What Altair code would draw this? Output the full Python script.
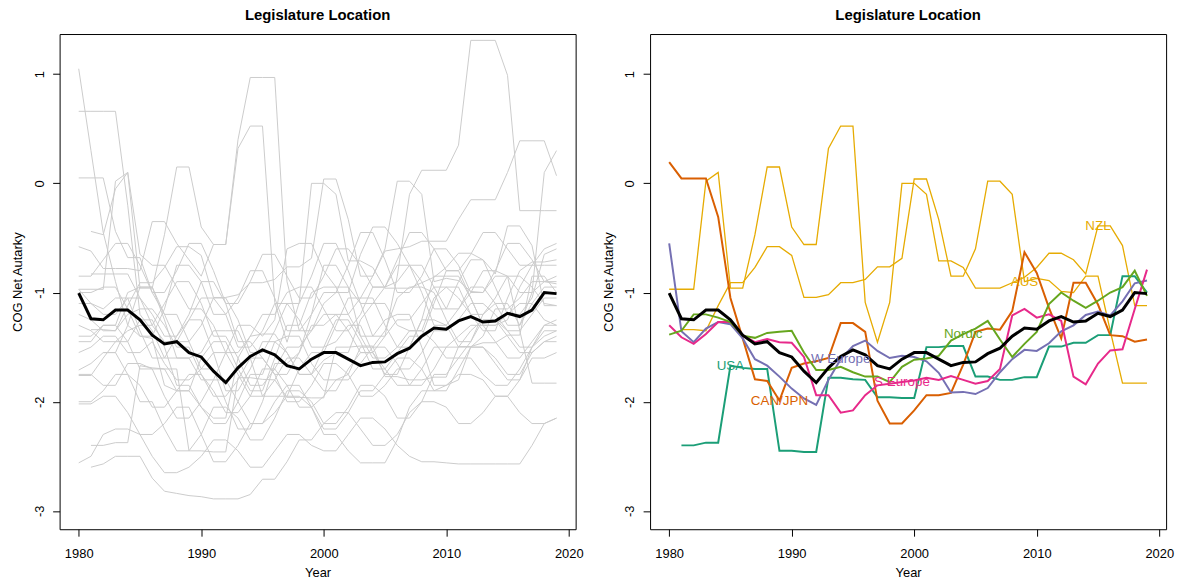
import altair as alt
import pandas as pd

YEARS = list(range(1980, 2020))

# overall mean (black)
MEAN = [-1.005, -1.24, -1.25, -1.16, -1.16, -1.25, -1.39, -1.47, -1.45, -1.55,
        -1.59, -1.72, -1.825, -1.69, -1.585, -1.525, -1.57, -1.67, -1.70, -1.61,
        -1.55, -1.55, -1.61, -1.67, -1.64, -1.635, -1.56, -1.51, -1.40, -1.325,
        -1.335, -1.26, -1.22, -1.27, -1.26, -1.19, -1.22, -1.16, -1.00, -1.01]

# group series (right panel)
USA = [None, -2.40, -2.40, -2.375, -2.375, -1.67, -1.69, -1.70, -1.70, -2.45,
       -2.45, -2.46, -2.46, -1.78, -1.78, -1.795, -1.80, -1.96, -1.96, -1.965,
       -1.965, -1.50, -1.50, -1.49, -1.49, -1.77, -1.77, -1.80, -1.80, -1.775,
       -1.775, -1.495, -1.495, -1.46, -1.46, -1.39, -1.39, -0.85, -0.85, -1.0]
CAN_JPN = [0.194, 0.045, 0.045, 0.045, -0.307, -1.05, -1.42, -1.795, -1.81, -1.99,
           -1.69, -1.65, -1.63, -1.60, -1.28, -1.28, -1.36, -1.99, -2.20, -2.20,
           -2.08, -1.94, -1.94, -1.92, -1.66, -1.36, -1.33, -1.34, -1.17, -0.63,
           -0.82, -1.14, -1.42, -0.91, -0.91, -1.11, -1.39, -1.40, -1.45, -1.43]
W_EUROPE = [-0.55, -1.355, -1.455, -1.33, -1.27, -1.29, -1.42, -1.61, -1.67, -1.77,
            -1.88, -1.97, -2.03, -1.80, -1.61, -1.49, -1.44, -1.535, -1.60, -1.58,
            -1.59, -1.63, -1.735, -1.915, -1.91, -1.93, -1.875, -1.73, -1.61, -1.525,
            -1.535, -1.465, -1.355, -1.30, -1.205, -1.175, -1.21, -1.08, -0.915, -0.89]
S_EUROPE = [-1.30, -1.41, -1.47, -1.38, -1.27, -1.27, -1.39, -1.455, -1.425, -1.455,
            -1.46, -1.59, -1.94, -1.94, -2.10, -2.08, -1.94, -1.85, -1.835, -1.82,
            -1.805, -1.78, -1.80, -1.765, -1.80, -1.835, -1.81, -1.70, -1.21, -1.15,
            -1.23, -1.20, -1.26, -1.77, -1.84, -1.65, -1.53, -1.52, -1.15, -0.79]
NORDIC = [-1.385, -1.35, -1.20, -1.20, -1.23, -1.27, -1.395, -1.415, -1.37, -1.36,
          -1.35, -1.55, -1.71, -1.71, -1.68, -1.73, -1.77, -1.77, -1.82, -1.68,
          -1.615, -1.605, -1.58, -1.44, -1.38, -1.33, -1.26, -1.43, -1.59, -1.47,
          -1.36, -1.105, -1.0, -1.075, -1.14, -1.075, -1.0, -0.95, -0.80, -1.03]
NZL = [-0.97, -0.97, -0.97, 0.02, 0.10, -0.96, -0.96, -0.47, 0.15, 0.15,
       -0.40, -0.56, -0.56, 0.32, 0.525, 0.525, -1.09, -1.455, -1.09, 0.0,
       0.0, -0.10, -0.71, -0.71, -0.77, -0.96, -0.96, -0.96, -0.91, -0.86,
       -0.77, -0.64, -0.64, -0.70, -0.83, -0.39, -0.39, -0.57, -1.12, -1.12]
AUS = [None, -1.34, -1.34, -1.35, -1.12, -0.91, -0.91, -0.77, -0.58, -0.58,
       -0.66, -1.045, -1.045, -1.02, -0.91, -0.91, -0.88, -0.765, -0.765, -0.686,
       0.04, 0.04, -0.33, -0.85, -0.85, -0.60, 0.02, 0.02, -0.10, -0.90,
       -0.87, -0.89, -0.99, -1.0, -0.85, -0.85, -1.35, -1.83, -1.83, -1.83]

# individual country series (grey, left panel)
G01 = [1.05, 0.30, -0.45, -0.90, -1.30, -1.40, -1.42, -1.85, -1.90, -1.90,
       -2.05, -2.15, -2.15, -1.60, -1.40, -1.38, -1.38, -1.55, -1.75, -1.75,
       -1.62, -1.55, -1.55, -1.25, -1.10, -1.10, -1.30, -1.35, -1.35, -1.05,
       -0.95, -0.95, -1.20, -1.35, -1.35, -1.05, -0.80, -0.72, -0.72, -0.70]
G02 = [0.66, 0.66, 0.66, 0.66, -0.20, -1.20, -1.35, -1.60, -1.60, -1.60,
       -1.55, -1.35, -1.35, -1.35, -1.60, -1.95, -1.95, -1.95, -1.70, -1.55,
       -1.55, -1.30, -1.05, -1.05, -1.05, -1.30, -1.50, -1.50, -1.25, -0.85,
       -0.85, -0.85, -1.05, -1.30, -1.30, -1.25, -0.95, -0.75, -0.75, -0.75]
G03 = [0.05, 0.05, 0.05, -0.44, -0.68, -0.68, -1.00, -1.20, -1.20, -1.45,
       -1.70, -1.70, -2.00, -2.25, -2.25, -2.00, -1.65, -1.65, -1.55, -1.20,
       -0.75, -0.75, -0.95, -1.40, -1.40, -1.25, -1.20, -1.20, -1.50, -1.85,
       -1.85, -1.80, -1.50, -1.50, -1.65, -1.80, -1.80, -1.50, -1.35, -1.35]
G04 = [-0.58, -0.62, -0.78, -0.78, -0.78, -0.80, -0.35, -0.35, -0.55, -0.70,
       -0.85, -0.56, -0.56, 0.40, 0.97, 0.97, 0.97, -0.90, -1.35, -1.35,
       -1.10, -1.00, -1.00, -0.65, -0.40, -0.40, -0.55, -0.75, -0.90, -1.15,
       -1.15, -0.90, -0.70, -0.70, -0.95, -1.20, -1.20, -1.05, -0.65, -0.60]
G05 = [-1.45, -1.45, -1.30, -1.30, -1.00, -0.95, -0.95, -1.25, -1.60, -1.60,
       -1.80, -1.80, -1.55, -1.30, -1.30, -1.40, -1.25, -0.60, -0.55, -0.55,
       -0.80, -0.95, -0.95, -1.10, -1.40, -1.40, -0.85, -0.10, 0.12, 0.12,
       0.12, 0.35, 1.31, 1.31, 1.31, 0.99, -0.25, -0.25, -0.25, -0.25]
G06 = [-1.75, -1.75, -1.85, -1.85, -1.65, -1.65, -1.70, -1.70, -1.90, -1.90,
       -1.60, -1.45, -1.45, -1.70, -1.90, -1.90, -1.60, -1.30, -1.30, -1.00,
       -0.95, -0.95, -1.20, -1.05, -0.85, -0.62, -0.60, -0.58, -0.53, -0.53,
       -0.53, -0.33, -0.15, -0.15, -0.15, 0.10, 0.39, 0.39, 0.39, 0.07]
G07 = [-1.76, -1.76, -1.60, -1.45, -1.45, -1.25, -1.25, -1.50, -1.85, -1.85,
       -2.05, -2.20, -2.20, -2.00, -1.75, -1.75, -1.45, -1.40, -1.40, -1.65,
       -1.80, -1.80, -1.75, -1.50, -1.50, -1.35, -1.05, -0.95, -0.95, -1.00,
       -1.25, -1.45, -1.45, -1.20, -1.10, -1.10, -1.30, -1.00, 0.10, 0.30]
G08 = [None, -2.60, -2.57, -2.50, -2.50, -2.50, -2.70, -2.82, -2.84, -2.86,
       -2.87, -2.89, -2.89, -2.89, -2.85, -2.71, -2.71, -2.55, -2.35, -2.35,
       -2.20, -2.10, -2.10, -2.25, -2.40, -2.40, -2.30, -2.10, -2.00, -2.00,
       -2.05, -2.20, -2.20, -2.10, -1.95, -1.95, -2.10, -2.20, -2.20, -2.15]
G09 = [-2.56, -2.50, -2.30, -2.25, -2.25, -2.30, -2.50, -2.65, -2.65, -2.60,
       -2.50, -2.35, -2.35, -2.45, -2.60, -2.60, -2.45, -2.30, -2.30, -2.40,
       -2.45, -2.45, -2.30, -2.15, -2.15, -2.25, -2.40, -2.50, -2.55, -2.55,
       -2.56, -2.57, -2.57, -2.57, -2.57, -2.57, -2.57, -2.40, -2.20, -2.15]
G10 = [-2.02, -2.02, -1.95, -1.95, -2.10, -2.30, -2.30, -2.20, -2.05, -2.05,
       -2.30, -2.55, -2.55, -2.40, -2.20, -2.20, -2.10, -1.95, -1.95, -2.05,
       -2.30, -2.30, -2.45, -2.56, -2.56, -2.56, -2.35, -2.05, -1.90, -1.90,
       -1.85, -1.75, -1.75, -1.80, -1.95, -1.95, -1.80, -1.60, -1.60, -1.55]
G11 = [-1.71, -1.65, -1.55, -1.55, -1.75, -2.00, -2.00, -2.25, -2.45, -2.45,
       -2.30, -2.05, -2.05, -2.15, -2.35, -2.35, -2.15, -1.90, -1.90, -2.00,
       -2.20, -2.20, -2.05, -1.85, -1.85, -1.95, -2.15, -2.15, -2.00, -1.75,
       -1.75, -1.60, -1.60, -1.75, -1.85, -1.85, -1.70, -1.50, -1.40, -1.35]
G12 = [None, -0.83, -0.83, -0.83, -0.83, -1.05, -1.30, -1.45, -1.45, -1.25,
       -1.05, -1.05, -1.20, -1.50, -1.50, -1.35, -1.10, -1.10, -1.25, -1.50,
       -1.50, -1.45, -1.30, -1.30, -1.55, -1.75, -1.75, -1.50, -1.25, -1.25,
       -1.30, -1.50, -1.50, -1.40, -1.15, -1.15, -1.05, -0.90, -0.90, -0.92]
G13 = [None, -0.44, -0.47, -0.05, 0.10, -0.65, -0.75, -0.75, -0.95, -1.15,
       -1.15, -1.30, -1.55, -1.55, -1.40, -1.20, -1.20, -1.00, -0.95, -0.95,
       -1.15, -1.35, -1.35, -1.20, -0.95, -0.95, -0.90, -0.75, -0.75, -0.95,
       -1.15, -1.15, -1.00, -0.80, -0.80, -0.85, -1.00, -1.00, -0.90, -0.85]
G14 = [-0.97, -1.10, -1.20, -1.20, -1.05, -1.05, -1.20, -1.40, -1.40, -1.20,
       -0.90, -0.90, -1.10, -1.45, -1.45, -1.60, -1.75, -1.75, -1.55, -1.30,
       -1.30, -1.20, -1.20, -1.40, -1.60, -1.60, -1.50, -1.35, -1.35, -1.45,
       -1.60, -1.60, -1.45, -1.25, -1.25, -1.35, -1.50, -1.50, -1.30, -1.25]
G15 = [-1.20, -1.25, -1.35, -1.35, -1.20, -1.15, -1.15, -1.30, -1.50, -1.50,
       -1.75, -1.95, -1.95, -1.80, -1.60, -1.60, -1.75, -2.00, -2.00, -1.85,
       -1.65, -1.65, -1.75, -1.95, -1.95, -1.85, -1.70, -1.70, -1.55, -1.35,
       -1.35, -1.25, -1.10, -1.10, -1.20, -1.35, -1.35, -1.20, -1.05, -1.05]
G16 = [-1.10, -1.10, -1.15, -1.05, -1.05, -1.35, -1.60, -1.60, -1.40, -1.25,
       -1.25, -1.55, -1.90, -1.90, -1.70, -1.45, -1.45, -1.55, -1.75, -1.75,
       -1.50, -1.25, -1.25, -1.45, -1.70, -1.70, -1.55, -1.40, -1.40, -1.10,
       -0.80, -0.80, -1.05, -1.30, -1.30, -1.20, -1.10, -1.10, -1.25, -1.30]
G17 = [-1.40, -1.40, -1.30, -1.30, -1.45, -1.70, -1.70, -1.95, -2.15, -2.15,
       -2.00, -1.80, -1.80, -2.00, -2.20, -2.20, -2.00, -1.85, -1.85, -2.05,
       -2.25, -2.25, -2.10, -1.90, -1.90, -1.75, -1.60, -1.60, -1.70, -1.90,
       -1.90, -1.70, -1.50, -1.50, -1.60, -1.75, -1.75, -1.55, -1.45, -1.45]
G18 = [-1.30, -1.35, -1.45, -1.45, -1.35, -1.30, -1.30, -1.10, -0.90, -0.90,
       -1.10, -1.40, -1.40, -1.60, -1.85, -1.85, -1.70, -1.50, -1.50, -1.35,
       -1.20, -1.20, -1.35, -1.55, -1.55, -1.40, -1.25, -1.25, -1.10, -0.95,
       -0.95, -1.05, -1.20, -1.20, -1.05, -0.85, -0.85, -0.95, -1.10, -1.12]
G19 = [-2.00, -2.00, -1.90, -1.75, -1.75, -1.85, -2.05, -2.05, -1.90, -1.75,
       -1.75, -1.90, -2.10, -2.10, -1.95, -1.70, -1.70, -1.85, -2.05, -2.05,
       -1.95, -1.80, -1.80, -1.65, -1.50, -1.50, -1.65, -1.85, -1.85, -1.70,
       -1.50, -1.50, -1.35, -1.25, -1.25, -1.40, -1.55, -1.55, -1.45, -1.40]
G20 = [-1.55, -1.50, -1.40, -1.40, -1.55, -1.55, -1.45, -1.65, -1.80, -1.80,
       -1.70, -1.55, -1.55, -1.75, -1.95, -1.95, -1.80, -1.60, -1.60, -1.75,
       -1.90, -1.90, -1.70, -1.55, -1.55, -1.70, -1.85, -1.85, -1.70, -1.50,
       -1.50, -1.40, -1.30, -1.30, -1.45, -1.60, -1.60, -1.45, -1.30, -1.30]
G21 = [-0.85, -0.85, -0.70, -0.55, -0.55, -0.75, -1.00, -1.00, -0.80, -0.55,
       -0.55, -0.80, -1.10, -1.10, -0.90, -0.65, -0.65, -0.85, -1.05, -1.05,
       -0.85, -0.60, -0.60, -0.75, -0.95, -0.95, -0.70, -0.45, -0.45, -0.60,
       -0.80, -0.80, -0.65, -0.45, -0.45, -0.60, -0.75, -0.75, -0.60, -0.55]
G22 = [-1.00, -1.00, -0.95, -0.95, -1.15, -1.40, -1.40, -1.15, -0.75, -0.75,
       -0.90, -1.20, -1.20, -1.05, -0.80, -0.80, -1.05, -1.35, -1.35, -1.20,
       -1.00, -1.00, -0.75, -0.45, -0.45, -0.70, -1.00, -1.00, -0.85, -0.60,
       -0.60, -0.75, -1.00, -1.00, -0.80, -0.55, -0.55, -0.70, -0.90, -0.90]
G23 = [None, None, -1.55, -1.55, -1.30, -0.95, -0.95, -1.20, -1.45, -1.45,
       -1.30, -1.05, -1.05, -1.25, -1.55, -1.55, -1.35, -1.10, -1.10, -0.85,
       -0.55, -0.55, -0.80, -1.10, -1.10, -0.95, -0.75, -0.75, -1.00, -1.30,
       -1.30, -1.15, -0.95, -0.95, -1.10, -1.30, -1.30, -1.10, -0.95, -0.95]

GROUP_NAMES = ["USA", "CAN/JPN", "W Europe", "S Europe", "Nordic"]
GROUP_COLORS = ["#1B9E77", "#D95F02", "#7570B3", "#E7298A", "#66A61E"]
COUNTRY_NAMES = ["AUS", "NZL"]
COUNTRY_COLOR = "#E6AB02"

LABEL_TEXT = ["USA", "CAN/JPN", "W Europe", "S Europe", "Nordic", "AUS", "NZL"]
LABEL_YEAR = [1985, 1989, 1994, 1999, 2004, 2009, 2015]
LABEL_VALUE = [-1.67, -1.99, -1.61, -1.82, -1.38, -0.90, -0.39]
LABEL_COLOR = GROUP_COLORS + [COUNTRY_COLOR, COUNTRY_COLOR]

X_TICKS = [1980, 1990, 2000, 2010, 2020]
Y_TICKS = [-3, -2, -1, 0, 1]
X_DOMAIN = [1978.44, 2020.56]
Y_DOMAIN = [-3.168, 1.368]

FONT = "Liberation Sans"
TITLE = "Legislature Location"


def long_rows(name, vals):
    return [{"series": name, "year": y, "value": v}
            for y, v in zip(YEARS, vals) if v is not None]


grey_lists = [("USA", USA), ("NZL", NZL), ("AUS", AUS),
              ("G01", G01), ("G02", G02), ("G03", G03), ("G04", G04),
              ("G05", G05), ("G06", G06), ("G07", G07), ("G08", G08),
              ("G09", G09), ("G10", G10), ("G11", G11), ("G12", G12),
              ("G13", G13), ("G14", G14), ("G15", G15), ("G16", G16),
              ("G17", G17), ("G18", G18), ("G19", G19), ("G20", G20),
              ("G21", G21), ("G22", G22), ("G23", G23)]
grey_df = pd.DataFrame([r for n, v in grey_lists for r in long_rows(n, v)])
mean_df = pd.DataFrame(long_rows("mean", MEAN))
group_df = pd.DataFrame([r for n, v in zip(GROUP_NAMES, [USA, CAN_JPN, W_EUROPE, S_EUROPE, NORDIC])
                         for r in long_rows(n, v)])
country_df = pd.DataFrame([r for n, v in zip(COUNTRY_NAMES, [AUS, NZL]) for r in long_rows(n, v)])
label_df = pd.DataFrame({"label": LABEL_TEXT, "year": LABEL_YEAR,
                         "value": LABEL_VALUE, "color": LABEL_COLOR})

x_axis = alt.Axis(values=X_TICKS, format="d", title="Year", grid=False, domain=False,
                  tickSize=7, tickColor="black", tickWidth=1, labelFlush=False,
                  labelColor="black", labelFont=FONT, labelFontSize=13,
                  labelBaseline="top", labelPadding=11.5,
                  titleFont=FONT, titleFontSize=13, titleFontWeight="normal",
                  titleColor="black", titleY=48, titleBaseline="alphabetic")
y_axis = alt.Axis(values=Y_TICKS, title="COG Net Autarky", grid=False, domain=False,
                  tickSize=7, tickColor="black", tickWidth=1,
                  labelExpr="'' + datum.value", labelAngle=270, labelAlign="center",
                  labelBaseline="alphabetic", labelPadding=9.7,
                  labelColor="black", labelFont=FONT, labelFontSize=13,
                  titleFont=FONT, titleFontSize=13, titleFontWeight="normal",
                  titleColor="black", titleAngle=270, titleAlign="center",
                  titleBaseline="alphabetic", titleX=-38, titleY=249.5)

X = alt.X("year:Q", scale=alt.Scale(domain=X_DOMAIN, nice=False, zero=False), axis=x_axis)
Y = alt.Y("value:Q", scale=alt.Scale(domain=Y_DOMAIN, nice=False, zero=False), axis=y_axis)

title = alt.TitleParams(TITLE, font=FONT, fontSize=15, fontWeight="bold", color="black",
                        anchor="middle", frame="group", offset=-1, baseline="alphabetic")

grey = alt.Chart(grey_df).mark_line(color="#cccccc", strokeWidth=1).encode(
    x=X, y=Y, detail="series:N")
mean_line = alt.Chart(mean_df).mark_line(color="black", strokeWidth=3).encode(x=X, y=Y)

left = alt.layer(grey, mean_line).properties(width=520, height=499, title=title)

countries = alt.Chart(country_df).mark_line(color=COUNTRY_COLOR, strokeWidth=1.3).encode(
    x=X, y=Y, detail="series:N")
groups = alt.Chart(group_df).mark_line(strokeWidth=2).encode(
    x=X, y=Y,
    color=alt.Color("series:N", scale=alt.Scale(domain=GROUP_NAMES, range=GROUP_COLORS),
                    legend=None))
labels = alt.Chart(label_df).mark_text(font=FONT, fontSize=13.5, align="center",
                                       baseline="middle").encode(
    x=X, y=Y, text="label:N", color=alt.Color("color:N", scale=None))

right = alt.layer(countries, groups, mean_line, labels).properties(
    width=520, height=499, title=title)

chart = alt.hconcat(left, right, spacing=75, bounds="flush").configure_view(
    stroke="black", strokeWidth=1).properties(
    background="white", padding={"left": 3, "top": -3, "right": 5, "bottom": 5})

chart.save("out.html", embed_options={"renderer": "svg", "actions": False})
